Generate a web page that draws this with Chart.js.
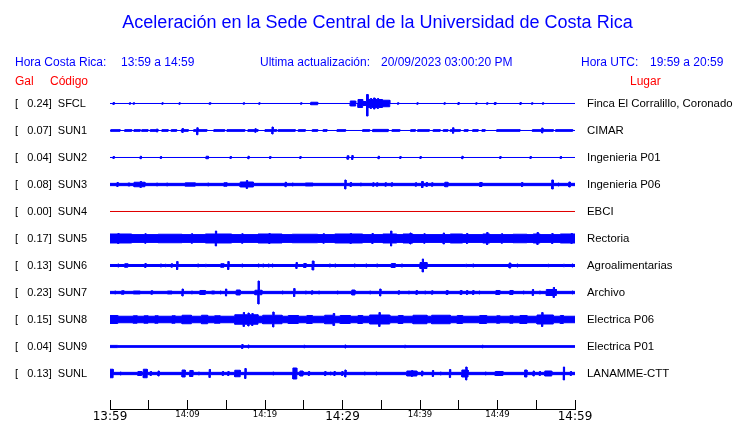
<!DOCTYPE html>
<html>
<head>
<meta charset="utf-8">
<script src="https://cdn.jsdelivr.net/npm/chart.js"></script>
<style>
  body { margin: 0; background: #fff; }
  #wrap { position: relative; width: 740px; height: 423px; }
  .t { position: absolute; font: 12px "Liberation Sans", Arial, sans-serif; line-height: 12px; white-space: pre; color: #0000ff; }
  .r { color: #ff0000; }
</style>
</head>
<body>
<div id="wrap">
  <canvas id="sismo" width="740" height="423"></canvas>
  <span class="t" style="left:15px;top:55.5px">Hora Costa Rica:</span>
  <span class="t" style="left:121px;top:55.5px">13:59 a 14:59</span>
  <span class="t" style="left:260px;top:55.5px">Ultima actualización:</span>
  <span class="t" style="left:381px;top:55.5px">20/09/2023 03:00:20 PM</span>
  <span class="t" style="left:581px;top:55.5px">Hora UTC:</span>
  <span class="t" style="left:650px;top:55.5px">19:59 a 20:59</span>
  <span class="t r" style="left:15px;top:75px">Gal</span>
  <span class="t r" style="left:50px;top:75px">Código</span>
  <span class="t r" style="left:630px;top:75px">Lugar</span>
</div>
<script>
// estaciones, de arriba hacia abajo
const CODES = ['SFCL', 'SUN1', 'SUN2', 'SUN3', 'SUN4', 'SUN5', 'SUN6', 'SUN7', 'SUN8', 'SUN9', 'SUNL'];
const GAL = ['0.24', '0.07', '0.04', '0.08', '0.00', '0.17', '0.13', '0.23', '0.15', '0.04', '0.13'];
const PLACES = ['Finca El Corralillo, Coronado', 'CIMAR', 'Ingenieria P01', 'Ingenieria P06', 'EBCI', 'Rectoria',
  'Agroalimentarias', 'Archivo', 'Electrica P06', 'Electrica P01', 'LANAMME-CTT'];

// minutos desde 13:59
const TICKS = [0, 5, 10, 15, 20, 25, 30, 35, 40, 45, 50, 55, 60];

// ruido de fondo (gal, media amplitud)
const BASE = [0, 0, 0, 0.023, 0, 0.078, 0.02, 0.023, 0.065, 0.017, 0.023];

// eventos: [min inicio, min fin, gal arriba, gal abajo?]
const SFCL = [[0.4,0.4,.02],[2.5,2.5,.015],[3.0,3.0,.015],[6.7,6.7,.015],[8.9,8.9,.015],[12.8,13.0,.015],[17.2,17.2,.015],
  [19.2,19.2,.015],[24.6,24.6,.015],[25.9,26.8,.025],[31.0,31.7,.05],[32.0,32.6,.08],[32.6,33.1,.04],[33.1,33.3,.18,.25],
  [33.3,35.1,.08],[33.6,33.7,.1],[34.0,34.2,.11],[34.5,34.6,.1],[35.2,36.1,.065],[37.1,37.1,.015],[39.6,39.6,.015],
  [43.1,43.1,.015],[44.9,44.9,.02],[47.2,47.2,.015],[48.6,48.6,.015],[49.6,49.8,.02],[52.9,52.9,.02],[54.4,54.4,.015],[55.8,55.8,.015]];
const SUN1 = [[0.1,1.3,.017],[1.9,2.8,.017],[3.1,3.9,.017],[4.1,4.9,.017],[5.2,6.2,.017],[6.0,6.0,.03],[6.7,7.5,.017],
  [7.9,8.6,.017],[9.2,10.1,.017],[9.3,9.3,.04],[10.8,12.5,.017],[11.2,11.2,.055,.085],[13.4,14.8,.017],[15.1,17.4,.017],
  [17.8,19.1,.017],[18.7,18.7,.035],[20.0,21.5,.017],[20.9,20.9,.07],[21.7,23.9,.017],[24.3,25.2,.017],[26.1,26.8,.017],
  [27.5,28.0,.017],[29.3,30.4,.017],[32.6,33.5,.017],[33.9,35.9,.022],[36.4,37.4,.017],[38.8,39.4,.017],[39.7,41.2,.017],
  [41.7,42.6,.017],[43.0,43.6,.017],[43.9,45.2,.017],[44.2,44.2,.055],[45.7,46.2,.017],[46.8,47.5,.017],[48.0,48.4,.017],
  [49.9,52.9,.017],[54.5,57.2,.017],[55.7,55.7,.05],[57.5,59.7,.017]];
const SUN2 = [[0.4,0.4,.02],[3.9,3.9,.025],[6.5,6.5,.02],[12.4,12.7,.025],[15.5,15.5,.02],[17.8,17.8,.025],[20.6,20.6,.02],
  [24.5,24.5,.02],[30.6,30.8,.035],[31.2,31.2,.04],[34.6,34.6,.025],[37.4,37.4,.02],[40.0,40.0,.02],[45.4,45.4,.025],
  [50.3,50.3,.02],[54.2,54.2,.02],[58.1,58.1,.02]];
const SUN3 = [[0.9,0.9,.04],[2.3,2.6,.03],[3.1,4.5,.045],[3.9,3.9,.06],[6.0,6.0,.03],[7.3,7.3,.03],[9.7,11.0,.033],
  [12.6,12.6,.03],[14.7,15.1,.035],[16.8,18.5,.05],[17.6,17.6,.08],[22.6,22.6,.045],[23.5,23.5,.03],[25.2,26.2,.03],
  [30.3,30.3,.09],[31.0,31.0,.04],[32.3,32.3,.03],[33.9,33.9,.035],[34.4,34.4,.035],[35.5,35.5,.035],[36.3,36.3,.035],
  [39.4,39.4,.035],[40.2,40.4,.06],[40.8,40.8,.04],[41.5,41.5,.035],[43.2,43.6,.045],[47.7,48.0,.04],[53.1,53.1,.04],
  [57.0,57.2,.09],[57.8,57.8,.03],[59.2,59.4,.05]];
const SUN4 = [];
const SUN5 = [[0,2.8,.09],[1.0,1.0,.1],[4.5,4.5,.095],[6.2,9.3,.085],[10.5,10.5,.095],[12.3,15.7,.09],[13.6,13.6,.15],
  [17.0,17.0,.095],[19.1,22.2,.09],[20.5,20.5,.1],[23.5,26.8,.085],[27.5,27.5,.095],[29.0,32.6,.09],[31.0,31.0,.1],
  [33.8,33.8,.1],[35.2,37.0,.09],[36.2,36.2,.15],[37.8,39.1,.09],[38.7,38.7,.11],[40.5,40.5,.095],[43.0,43.0,.11],
  [43.9,45.5,.09],[46.0,46.0,.1],[48.1,49.0,.09],[48.6,48.6,.12],[50.5,50.5,.095],[52.0,53.8,.085],[54.6,55.5,.09],
  [55.1,55.1,.12],[57.0,57.0,.1],[58.1,60,.09],[59.5,59.5,.1]];
const SUN6 = [[1.0,1.0,.03],[1.9,2.3,.035],[4.5,4.5,.04],[6.5,6.5,.03],[7.1,7.1,.025],[7.9,7.9,.035],[8.6,8.6,.08],
  [11.3,11.3,.03],[12.3,12.3,.025],[14.3,14.7,.035],[15.2,15.2,.08],[17.0,17.0,.03],[19.1,19.1,.03],[19.7,19.7,.03],
  [20.4,20.4,.03],[20.9,20.9,.03],[24.0,24.0,.06],[25.0,25.3,.04],[26.1,26.3,.09],[28.3,28.3,.03],[29.0,29.0,.03],
  [31.5,31.5,.03],[33.0,33.0,.03],[34.4,34.4,.03],[36.3,36.8,.04],[37.6,37.6,.03],[40.0,40.9,.06],[40.3,40.3,.13],
  [45.9,45.9,.025],[46.8,46.8,.03],[51.5,51.7,.05],[52.5,52.5,.03],[56.5,56.5,.025],[58.5,58.5,.025],[59.6,59.6,.03]];
const SUN7 = [[0.6,0.6,.03],[1.5,1.8,.035],[3.0,3.9,.03],[5.3,5.5,.035],[7.4,8.0,.03],[9.3,9.3,.07],[10.5,10.5,.03],
  [11.6,12.3,.04],[13.1,13.5,.03],[14.2,14.2,.03],[14.9,14.9,.07],[16.3,16.8,.05],[18.7,19.6,.045],[19.1,19.1,.23],
  [22.2,22.2,.03],[23.7,23.7,.08],[25.2,25.2,.03],[26.0,26.0,.035],[26.9,26.9,.03],[29.3,29.3,.03],[31.2,31.6,.05],
  [33.5,33.5,.03],[34.8,34.8,.07],[37.2,37.2,.035],[38.5,38.5,.03],[39.5,39.5,.04],[40.6,40.6,.03],[41.5,41.5,.035],
  [43.4,43.6,.04],[45.2,45.4,.04],[46.0,46.0,.04],[46.8,46.8,.04],[47.6,47.6,.03],[49.8,50.3,.04],[51.6,52.0,.04],
  [53.3,53.3,.03],[54.5,54.5,.06],[55.4,55.4,.03],[56.3,57.6,.06],[57.2,57.2,.1],[59.6,59.6,.03]];
const SUN8 = [[0,1.0,.08],[3.0,3.5,.075],[4.4,4.9,.075],[5.8,6.2,.075],[8.0,8.4,.075],[9.3,10.5,.085],[11.8,12.6,.085],
  [13.5,14.2,.075],[16.1,19.1,.095],[17.2,17.2,.14],[17.8,17.8,.13],[18.3,18.3,.12],[19.7,22.2,.085],[21.0,21.0,.15],
  [23.0,24.3,.08],[25.4,26.1,.08],[27.7,29.0,.085],[28.8,28.8,.12],[29.7,31.0,.08],[32.0,32.6,.08],[33.5,36.1,.09],
  [34.7,34.7,.14],[37.2,37.8,.08],[39.1,40.9,.085],[41.5,43.9,.085],[44.8,45.5,.08],[47.7,48.6,.08],[49.9,50.3,.075],
  [51.6,52.0,.075],[52.9,53.8,.08],[55.1,57.2,.09],[55.7,55.7,.14],[58.1,58.5,.08]];
const SUN9 = [[0,1.0,.022],[17.0,17.0,.04],[17.8,17.8,.03],[25.0,25.0,.025],[30.3,30.3,.03],[38.0,38.0,.025],[48.0,48.0,.025]];
const SUNL = [[0,0.4,.085],[1.3,1.3,.03],[3.6,4.1,.04],[4.3,4.8,.085],[5.2,5.2,.04],[6.2,6.2,.05],[9.3,9.7,.07],
  [10.3,10.7,.06],[11.4,11.4,.03],[12.8,12.8,.08],[14.5,14.5,.04],[15.2,15.2,.04],[16.1,16.8,.065],[17.4,17.4,.1],
  [21.0,21.0,.03],[23.6,24.1,.11],[24.5,24.9,.05],[25.6,25.6,.04],[27.7,27.7,.04],[28.4,28.4,.03],[28.9,28.9,.04],
  [29.9,29.9,.04],[30.3,30.3,.07],[32.8,32.8,.03],[34.3,34.3,.03],[38.3,39.6,.05],[38.9,38.9,.06],[40.2,40.2,.05],
  [41.6,41.6,.06],[42.6,42.6,.03],[43.8,43.8,.08],[45.4,46.2,.07],[45.9,45.9,.13],[48.4,48.4,.03],[49.7,50.7,.04],
  [53.5,53.8,.07],[54.6,54.6,.05],[55.4,55.4,.04],[56.1,57.0,.05],[58.5,58.5,.13],[59.4,59.4,.04]];

const EVENTS = [SFCL, SUN1, SUN2, SUN3, SUN4, SUN5, SUN6, SUN7, SUN8, SUN9, SUNL];
const GAIN = 50 / 27; // filas por gal

// envolvente escalonada de una traza (side 0 = arriba, 1 = abajo)
function envelope(base, events, side) {
  const cuts = new Set([0, 60]);
  const list = events.map((e) => {
    const t0 = e[0];
    const t1 = Math.min(Math.max(e[1], e[0] + 0.15), 60);
    cuts.add(t0); cuts.add(t1);
    return [t0, t1, side && e[3] !== undefined ? e[3] : e[2]];
  });
  const xs = [...cuts].sort((a, b) => a - b);
  const pts = [];
  for (let i = 0; i < xs.length - 1; i++) {
    const mid = (xs[i] + xs[i + 1]) / 2;
    let v = base;
    list.forEach(([t0, t1, a]) => { if (mid >= t0 && mid <= t1 && a > v) v = a; });
    pts.push({ x: xs[i], y: v }, { x: xs[i + 1], y: v });
  }
  return pts;
}

const datasets = [];
CODES.forEach((code, i) => {
  const color = code === 'SUN4' ? '#e00000' : '#0000ff';
  const up = envelope(BASE[i], EVENTS[i], 0).map((p) => ({ x: p.x, y: i - p.y * GAIN }));
  const dn = envelope(BASE[i], EVENTS[i], 1).map((p) => ({ x: p.x, y: i + p.y * GAIN }));
  datasets.push({ data: up, borderColor: color, borderWidth: 1, pointRadius: 0, fill: false });
  datasets.push({ data: dn, borderColor: color, backgroundColor: color, borderWidth: 1, pointRadius: 0, fill: '-1' });
});

const hhmm = (v) => {
  const m = 13 * 60 + 59 + v;
  return `${Math.floor(m / 60)}:${String(m % 60).padStart(2, '0')}`;
};

new Chart(document.getElementById('sismo'), {
  type: 'line',
  data: { datasets },
  options: {
    responsive: false,
    animation: false,
    layout: { padding: { left: 15, right: 0, top: 0, bottom: 0 } },
    plugins: {
      legend: { display: false },
      tooltip: { enabled: false },
      title: {
        display: true,
        text: 'Aceleración en la Sede Central de la Universidad de Costa Rica',
        color: '#0000ff',
        font: { family: 'Liberation Sans', size: 18, weight: 'normal' },
        padding: { top: 12, bottom: 56.4 },
      },
    },
    scales: {
      x: {
        type: 'linear', min: 0, max: 60,
        afterBuildTicks: (s) => { s.ticks = TICKS.map((v) => ({ value: v })); },
        afterFit: (s) => { s.height = 14; },
        grid: { drawOnChartArea: false, drawTicks: true, tickLength: -9, color: '#000', tickColor: '#000' },
        border: { display: true, color: '#000', width: 1 },
        ticks: {
          autoSkip: false, maxRotation: 0, padding: 10, color: '#000',
          callback: (v) => (v % 10 === 0 ? hhmm(v) : ''),
          font: (ctx) => (ctx.tick && ctx.tick.value % 30 === 0
            ? { family: 'DejaVu Sans', size: 12 }
            : { family: 'DejaVu Sans', size: 8.5 }),
        },
      },
      y: {
        type: 'linear', reverse: true, min: -0.5, max: 11.315, position: 'left',
        afterBuildTicks: (s) => { s.ticks = CODES.map((c, i) => ({ value: i })); },
        afterFit: (s) => { s.width = 95; },
        grid: { display: false, drawTicks: false },
        border: { display: false },
        ticks: {
          crossAlign: 'far', padding: 0, color: '#000',
          font: { family: 'Liberation Sans', size: 11 },
          callback: (v) => `[   ${GAL[Math.round(v)]}]  ${CODES[Math.round(v)]}`,
        },
      },
      y2: {
        type: 'linear', reverse: true, min: -0.5, max: 11.315, position: 'right',
        afterBuildTicks: (s) => { s.ticks = CODES.map((c, i) => ({ value: i })); },
        afterFit: (s) => { s.width = 165; },
        grid: { display: false, drawTicks: true, tickLength: 12 },
        border: { display: false },
        ticks: {
          padding: 0, color: '#000',
          font: { family: 'Liberation Sans', size: 11.4 },
          callback: (v) => PLACES[Math.round(v)],
        },
      },
    },
  },
});
</script>
</body>
</html>
